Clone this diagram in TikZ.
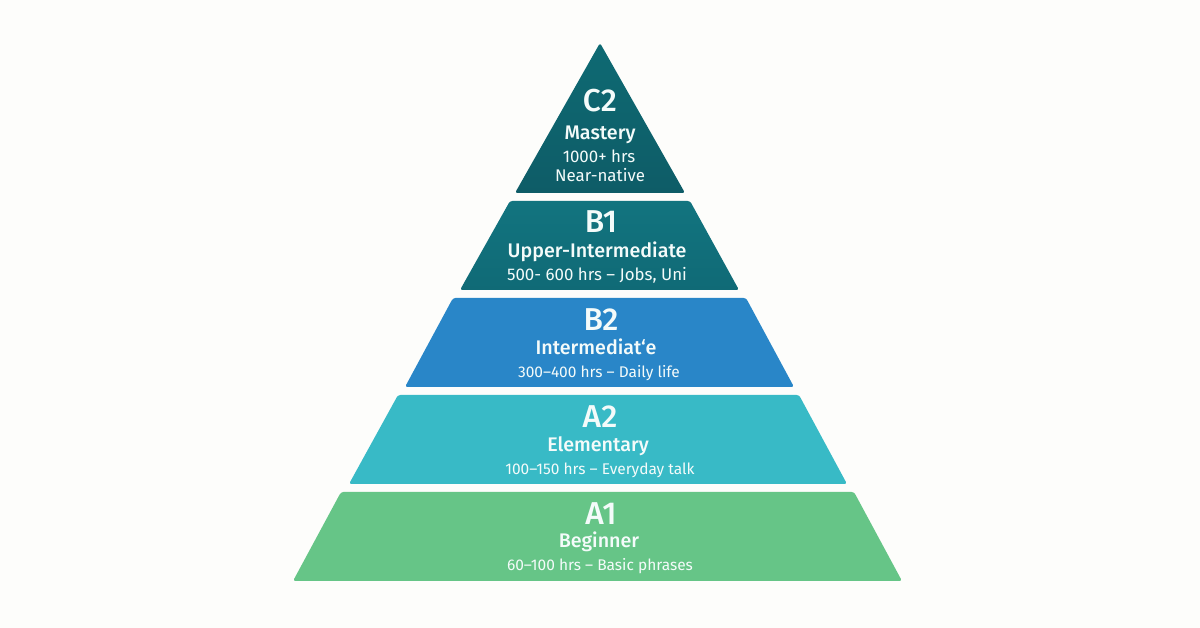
\documentclass[tikz,border=0pt]{standalone}
\usepackage{fontspec}
\setmainfont{Fira Sans}
\newfontfamily\medfont{Fira Sans Medium}
\usepackage{tikz}
\definecolor{paper}{HTML}{FDFDFB}
\definecolor{textc}{HTML}{F4FBFA}
\definecolor{c2top}{HTML}{0E6A73}
\definecolor{c2bot}{HTML}{0E5C67}
\definecolor{b1top}{HTML}{12747F}
\definecolor{b1bot}{HTML}{106A76}
\definecolor{b2col}{HTML}{2986C8}
\definecolor{a2col}{HTML}{38BAC6}
\definecolor{a1col}{HTML}{66C587}
\tikzstyle{lvl} = [rounded corners=0.7pt]
\tikzstyle{code} = [text=textc, inner sep=0pt, anchor=base, font=\fontsize{9}{10}\medfont]
\tikzstyle{title} = [text=textc, inner sep=0pt, anchor=base, font=\fontsize{5.6}{6}\medfont]
\tikzstyle{hours} = [text=textc, inner sep=0pt, anchor=base, font=\fontsize{4.8}{6}\selectfont]
\tikzstyle{hourslow} = [hours, font=\fontsize{4.4}{6}\selectfont]

\begin{document}
\begin{tikzpicture}[x=0.01cm,y=-0.01cm]
  \fill[paper] (0,0) rectangle (1200,628);
  \useasboundingbox (0,0) rectangle (1200,628);

  \path[lvl,top color=c2top,bottom color=c2bot]
    (600,43) -- (685,193) -- (515,193) -- cycle;
  \path[lvl,top color=b1top,bottom color=b1bot]
    (510,201) -- (690,201) -- (739,290) -- (460,290) -- cycle;
  \path[lvl,fill=b2col]
    (453,298) -- (746,298) -- (794,387) -- (405,387) -- cycle;
  \path[lvl,fill=a2col]
    (398,395) -- (799,395) -- (847,484) -- (349,484) -- cycle;
  \path[lvl,fill=a1col]
    (341,492) -- (854,492) -- (902,581) -- (293,581) -- cycle;

  \node[code]  (c2)     at (600,112) {C2};
  \node[title] (c2name) at (600,140) {Mastery};
  \node[hours] (c2hrs)  at (599,163) {1000+ hrs};
  \node[hours] (c2use)  at (600,182) {Near-native};

  \node[code]  (b1)     at (601,233) {B1};
  \node[title] (b1name) at (597,258) {Upper-Intermediate};
  \node[hours] (b1hrs)  at (597,281) {500- 600 hrs -- Jobs, Uni};

  \node[code]  (b2)     at (601,331) {B2};
  \node[title] (b2name) at (596,355) {Intermediat‘e};
  \node[hourslow] (b2hrs)  at (599,378) {300--400 hrs -- Daily life};

  \node[code]  (a2)     at (600,428) {A2};
  \node[title] (a2name) at (598,452) {Elementary};
  \node[hourslow] (a2hrs)  at (600,475) {100--150 hrs -- Everyday talk};

  \node[code]  (a1)     at (601,525) {A1};
  \node[title] (a1name) at (599,548) {Beginner};
  \node[hourslow] (a1hrs)  at (600,571) {60--100 hrs -- Basic phrases};
\end{tikzpicture}
\end{document}
